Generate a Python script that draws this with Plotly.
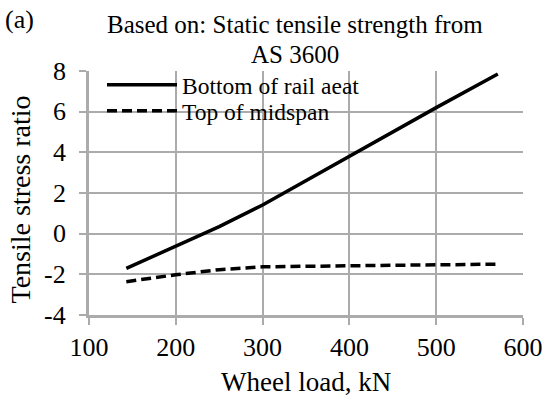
import plotly.graph_objects as go

# Wheel load (kN) and tensile stress ratio for the two locations
wheel_load = [143, 200, 250, 300, 400, 500, 571]
bottom_rail_seat = [-1.71, -0.62, 0.35, 1.41, 3.82, 6.2, 7.85]
top_midspan = [-2.36, -2.02, -1.77, -1.63, -1.58, -1.54, -1.5]

x_ticks = [100, 200, 300, 400, 500, 600]
y_ticks = [-4, -2, 0, 2, 4, 6, 8]

series_names = ["Bottom of rail aeat", "Top of midspan"]
title_lines = ["Based on: Static tensile strength from", "AS 3600"]
panel_label = "(a)"
x_title = "Wheel load, kN"
y_title = "Tensile stress ratio"

FONT = "Liberation Serif"
GRID = "#ababab"
W, H = 545, 399
M_L, M_R, M_T, M_B = 89, 22, 71, 84
PLOT_H = H - M_T - M_B
PLOT_W = W - M_L - M_R


def py(y_px):
    """Convert a pixel row of the page into paper y."""
    return (H - M_B - y_px) / PLOT_H


def px(x_px):
    """Convert a pixel column of the page into paper x."""
    return (x_px - M_L) / PLOT_W


fig = go.Figure()
fig.add_trace(go.Scatter(
    x=wheel_load, y=bottom_rail_seat, mode="lines", name=series_names[0],
    line=dict(color="black", width=3.5), legend="legend",
))
fig.add_trace(go.Scatter(
    x=wheel_load, y=top_midspan, mode="lines", name=series_names[1],
    line=dict(color="black", width=3.5, dash="10px,5px"), legend="legend2",
))

legend_common = dict(
    x=px(102), xanchor="left", yanchor="middle",
    bgcolor="rgba(0,0,0,0)", borderwidth=0,
    font=dict(family=FONT, size=23.5, color="black"),
    itemwidth=70,
)

tick_font = dict(family=FONT, size=26, color="black")
label_font = dict(family=FONT, size=27, color="black")

# y tick labels placed on the y scale, right-aligned a fixed gap left of the axis
y_tick_labels = [
    dict(text=str(v), xref="paper", yref="y", x=px(67), y=v,
         xanchor="right", yanchor="middle", showarrow=False, borderpad=0,
         font=tick_font)
    for v in y_ticks
]

fig.update_layout(
    width=W, height=H,
    margin=dict(l=M_L, r=M_R, t=M_T, b=M_B, autoexpand=False),
    paper_bgcolor="white", plot_bgcolor="white",
    font=dict(family=FONT, color="black"),
    showlegend=True,
    legend=dict(y=py(85), **legend_common),
    legend2=dict(y=py(111), **legend_common),
    xaxis=dict(
        range=[100, 600], tickvals=x_ticks, ticktext=[str(v) for v in x_ticks],
        showgrid=True, gridcolor=GRID, gridwidth=2,
        showline=True, linecolor=GRID, linewidth=3,
        ticks="outside", ticklen=7, tickwidth=2, tickcolor=GRID,
        tickfont=tick_font, automargin=False,
        zeroline=False,
    ),
    yaxis=dict(
        range=[-4, 8], tickvals=y_ticks, showticklabels=False,
        showgrid=True, gridcolor=GRID, gridwidth=2,
        showline=True, linecolor=GRID, linewidth=3,
        ticks="outside", ticklen=7, tickwidth=2, tickcolor=GRID,
        automargin=False,
        zeroline=False,
    ),
    shapes=[
        # white panel behind the legend entries, above the grid
        dict(type="rect", xref="paper", yref="paper",
             x0=px(94), x1=px(377), y0=py(122), y1=py(73),
             fillcolor="white", line=dict(width=0), layer="between"),
    ],
    annotations=y_tick_labels + [
        dict(text=y_title, xref="paper", yref="paper", x=px(3), y=py(200),
             xanchor="left", yanchor="middle", textangle=-90, showarrow=False,
             borderpad=0, font=dict(family=FONT, size=28, color="black")),
        dict(text=x_title, xref="paper", yref="paper", x=px(306), y=py(382),
             xanchor="center", yanchor="middle", showarrow=False, borderpad=0,
             font=label_font),
        dict(text=panel_label, xref="paper", yref="paper", x=px(3), y=py(19),
             xanchor="left", yanchor="middle", showarrow=False,
             font=dict(family=FONT, size=26, color="black")),
        dict(text=title_lines[0], xref="paper", yref="paper", x=px(294.5), y=py(25),
             xanchor="center", yanchor="middle", showarrow=False,
             font=dict(family=FONT, size=25, color="black")),
        dict(text=title_lines[1], xref="paper", yref="paper", x=px(294.5), y=py(55),
             xanchor="center", yanchor="middle", showarrow=False,
             font=dict(family=FONT, size=25, color="black")),
    ],
)

fig.write_html("out.html")
